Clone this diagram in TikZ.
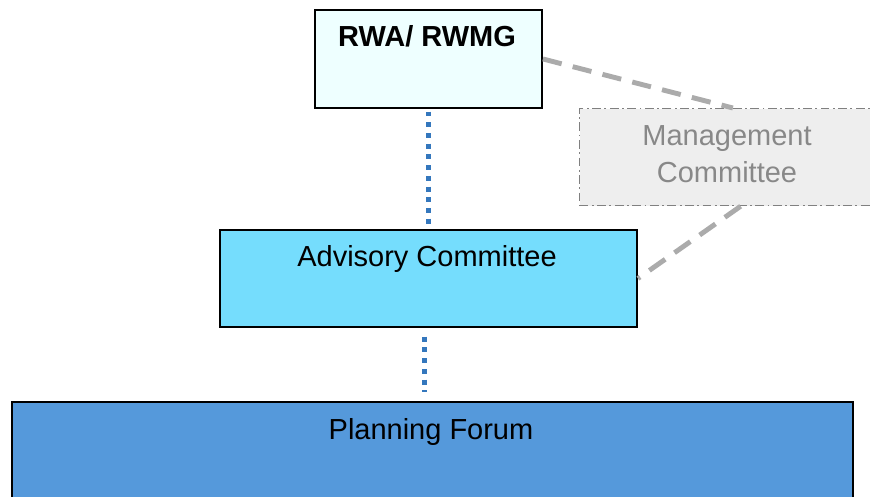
\documentclass[tikz,border=0pt]{standalone}
\usepackage{fontspec}
\setmainfont{Liberation Sans}
\begin{document}
\begin{tikzpicture}[x=0.02cm,y=-0.02cm,
  box/.style={draw=black,line width=1.1pt,inner sep=0pt,anchor=north west},
  lbl/.style={font=\fontsize{16.5}{21}\selectfont,anchor=base,inner sep=0pt,align=center},
  linkblue/.style={draw=linkcol,line width=2.8pt,dash pattern=on 2.8pt off 3.3pt},
  linkgray/.style={draw=black!33,line width=2.8pt,dash pattern=on 11pt off 6.5pt}]
\definecolor{topfill}{HTML}{EEFFFF}
\definecolor{advfill}{HTML}{75DDFD}
\definecolor{planfill}{HTML}{5599DB}
\definecolor{mgmtfill}{HTML}{EEEEEE}
\definecolor{mgmttext}{HTML}{888888}
\definecolor{mgmtline}{HTML}{808080}
\definecolor{linkcol}{HTML}{3477BD}
\useasboundingbox (0,0) rectangle (870,497);
\clip (0,0) rectangle (870,497);
% boxes
\node[box,fill=topfill,minimum width=227*0.02cm,minimum height=98*0.02cm] (rwa) at (314,9) {};
\node[box,draw=mgmtline,line width=0.7pt,dash pattern=on 5pt off 2pt on 1pt off 2pt,fill=mgmtfill,
      minimum width=296*0.02cm,minimum height=97*0.02cm] (mgmt) at (579,108) {};
\node[box,fill=advfill,minimum width=417*0.02cm,minimum height=97*0.02cm] (adv) at (219,229) {};
\node[box,fill=planfill,minimum width=841*0.02cm,minimum height=140*0.02cm] (plan) at (11,401) {};
% labels
\node[lbl,font=\fontsize{16.5}{21}\selectfont\bfseries] (rwat) at (427,47) {RWA/ RWMG};
\node[lbl,text=mgmttext] (mgmtt) at (727,182) {Management\\Committee};
\node[lbl] (advt) at (427,266) {Advisory Committee};
\node[lbl] (plant) at (431,439) {Planning Forum};
% connectors
\draw[linkblue] ([yshift=-1.5pt]rwa.south) -- ([yshift=1pt]adv.north);
\draw[linkblue] ([xshift=-2pt,yshift=-5pt]adv.south) -- ([xshift=-2pt,yshift=5pt]adv.south |- plan.north);
\draw[linkgray] (rwa.east) -- ([xshift=3pt]mgmt.north);
\draw[linkgray] ([xshift=13*0.02cm]mgmt.south) -- (adv.east);
\end{tikzpicture}
\end{document}
